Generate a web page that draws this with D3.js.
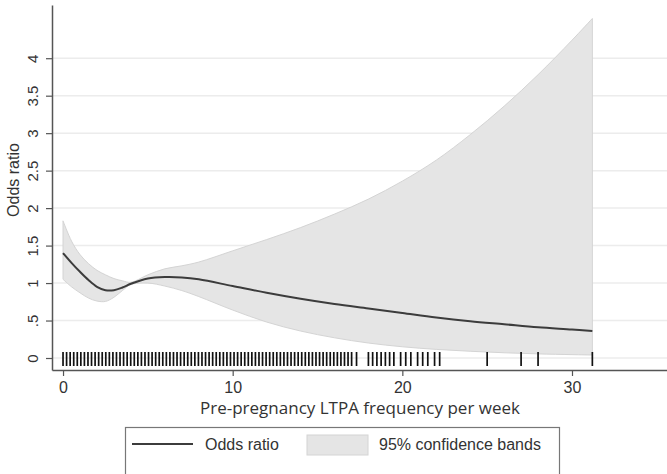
<!DOCTYPE html>
<html>
<head>
<meta charset="utf-8">
<script src="https://cdn.jsdelivr.net/npm/d3@7"></script>
<style>
  body { margin: 0; background: #fff; }
  svg { display: block; }
  text { font-family: "Liberation Sans", Arial, sans-serif; fill: #333; }
</style>
</head>
<body>
<svg id="chart" width="667" height="474"></svg>
<script>
// LTPA frequency grid where the curve and bands were read
const freq = [0, 0.5, 1, 1.5, 2, 2.5, 3, 3.5, 4, 5, 6, 7, 8, 10, 12, 14, 16, 18, 20, 22, 24, 26, 28, 30, 31.2]
const oddsRatio = [1.40, 1.27, 1.15, 1.04, 0.95, 0.905, 0.905, 0.94, 0.99, 1.06, 1.08, 1.075, 1.05, 0.96, 0.87, 0.79, 0.72, 0.66, 0.60, 0.54, 0.49, 0.45, 0.41, 0.38, 0.36]
const upperCI = [1.83, 1.56, 1.38, 1.26, 1.17, 1.11, 1.06, 1.03, 1.01, 1.11, 1.19, 1.23, 1.28, 1.43, 1.58, 1.74, 1.92, 2.12, 2.36, 2.64, 2.98, 3.36, 3.78, 4.24, 4.53]
const lowerCI = [1.05, 0.95, 0.87, 0.80, 0.76, 0.755, 0.81, 0.90, 0.98, 1.00, 0.96, 0.90, 0.82, 0.64, 0.48, 0.36, 0.27, 0.20, 0.15, 0.115, 0.09, 0.07, 0.055, 0.045, 0.04]

// observed frequencies (rug)
const rugValues = [
  0, 0.21, 0.42, 0.63, 0.84, 1.05, 1.26, 1.47, 1.68, 1.89, 2.1, 2.31, 2.52, 2.73, 2.94,
  3.15, 3.36, 3.57, 3.78, 3.99, 4.2, 4.41, 4.62, 4.83, 5.04, 5.25, 5.46, 5.67, 5.88,
  6.09, 6.3, 6.51, 6.72, 6.93, 7.14, 7.35, 7.56, 7.77, 7.98, 8.19, 8.4, 8.61, 8.82,
  9.03, 9.24, 9.45, 9.66, 9.87, 10.08, 10.29, 10.5, 10.71, 10.92, 11.13, 11.34, 11.55,
  11.76, 11.97, 12.18, 12.39, 12.6, 12.81, 13.02, 13.23, 13.44, 13.65, 13.86, 14.07,
  14.28, 14.49, 14.7, 14.91, 15.12, 15.33, 15.54, 15.75, 15.96, 16.17, 16.38, 16.59,
  16.8, 17.01, 17.3,
  18.0, 18.25, 18.5, 18.75, 19.0, 19.25, 19.5,
  19.9, 20.2, 20.5, 20.9, 21.2, 21.5, 21.9, 22.2,
  25, 27, 28, 31.2
]

const xTicks = [0, 10, 20, 30]
const yTicks = [0, 0.5, 1, 1.5, 2, 2.5, 3, 3.5, 4]
const yTickLabels = ["0", ".5", "1", "1.5", "2", "2.5", "3", "3.5", "4"]

const svg = d3.select("#chart")

const x = d3.scaleLinear().domain([-0.65, 35.6]).range([52, 667])
const y = d3.scaleLinear().domain([-0.16, 4.71]).range([370, 5])

const data = freq.map((f, i) => ({ f: f, or: oddsRatio[i], lo: lowerCI[i], hi: upperCI[i] }))

// grid
svg.append("g")
  .selectAll("line")
  .data(yTicks)
  .enter().append("line")
    .attr("x1", x.range()[0])
    .attr("x2", x.range()[1])
    .attr("y1", d => y(d))
    .attr("y2", d => y(d))
    .style("stroke", "#ececec")
    .style("stroke-width", 1.5)

// confidence band
const band = d3.area()
  .x(d => x(d.f))
  .y0(d => y(d.lo))
  .y1(d => y(d.hi))
  .curve(d3.curveCatmullRom.alpha(0.5))

svg.append("path")
  .datum(data)
  .attr("d", band)
  .style("fill", "#e5e5e5")
  .style("stroke", "#d4d4d4")
  .style("stroke-width", 1)

// odds ratio line
const line = d3.line()
  .x(d => x(d.f))
  .y(d => y(d.or))
  .curve(d3.curveCatmullRom.alpha(0.5))

svg.append("path")
  .datum(data)
  .attr("d", line)
  .style("fill", "none")
  .style("stroke", "#3c3c3c")
  .style("stroke-width", 2)

// rug
svg.append("g")
  .selectAll("line")
  .data(rugValues)
  .enter().append("line")
    .attr("x1", d => x(d))
    .attr("x2", d => x(d))
    .attr("y1", y(0) - 6)
    .attr("y2", y(0) + 8)
    .style("stroke", "#111")
    .style("stroke-width", 1.7)

// axes
const xAxis = d3.axisBottom(x).tickValues(xTicks).tickSize(6).tickSizeOuter(0).tickPadding(6)
const yAxis = d3.axisLeft(y).tickValues(yTicks).tickSize(6).tickSizeOuter(0)
  .tickFormat((d, i) => yTickLabels[i])

const gx = svg.append("g").attr("transform", "translate(0," + y.range()[0] + ")").call(xAxis)
const gy = svg.append("g").attr("transform", "translate(" + x.range()[0] + ",0)").call(yAxis)

gx.select(".domain").style("stroke", "#555").style("stroke-width", 1.5)
gx.selectAll(".tick line").style("stroke", "#555").style("stroke-width", 1.2)
gx.selectAll(".tick text")
  .style("font-size", "16px")
  .style("fill", "#333")
  .style("font-family", "Liberation Sans, Arial, sans-serif")

gy.select(".domain").style("stroke", "#555").style("stroke-width", 1.5)
gy.selectAll(".tick line").style("stroke", "#555").style("stroke-width", 1.2)
gy.selectAll(".tick text")
  .attr("x", null).attr("dy", null)
  .attr("transform", "translate(-20,0) rotate(-90)")
  .attr("text-anchor", "middle")
  .attr("dominant-baseline", "central")
  .style("font-size", "15px")
  .style("fill", "#333")
  .style("font-family", "Liberation Sans, Arial, sans-serif")

// axis titles
svg.append("text")
  .attr("transform", "translate(13,180) rotate(-90)")
  .attr("text-anchor", "middle")
  .attr("dominant-baseline", "central")
  .style("font-size", "16px")
  .text("Odds ratio")

svg.append("text")
  .attr("x", 360)
  .attr("y", 414)
  .attr("text-anchor", "middle")
  .style("font-size", "17px")
  .style("font-family", "'Open Sans', sans-serif")
  .text("Pre-pregnancy LTPA frequency per week")

// legend
const legend = svg.append("g")
legend.append("rect")
  .attr("x", 125.5).attr("y", 427.5)
  .attr("width", 434).attr("height", 60)
  .style("fill", "#fff")
  .style("stroke", "#777")
  .style("stroke-width", 1.2)
legend.append("line")
  .attr("x1", 132).attr("x2", 193)
  .attr("y1", 444).attr("y2", 444)
  .style("stroke", "#3c3c3c")
  .style("stroke-width", 2)
legend.append("text")
  .attr("x", 205).attr("y", 450)
  .style("font-size", "16px")
  .text("Odds ratio")
legend.append("rect")
  .attr("x", 307).attr("y", 435)
  .attr("width", 61).attr("height", 20)
  .style("fill", "#e5e5e5")
  .style("stroke", "#d4d4d4")
legend.append("text")
  .attr("x", 379).attr("y", 450)
  .style("font-size", "16px")
  .text("95% confidence bands")
</script>
</body>
</html>
